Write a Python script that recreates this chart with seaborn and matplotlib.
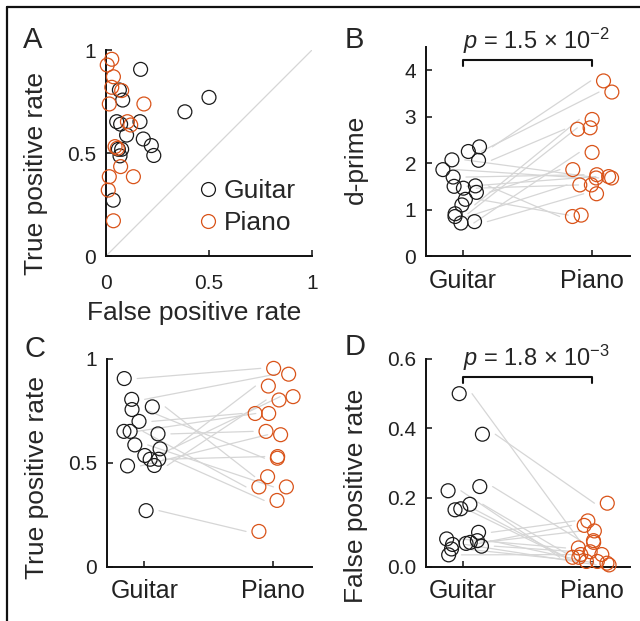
import numpy as np
import pandas as pd
import seaborn as sns
import matplotlib.pyplot as plt
from matplotlib.lines import Line2D

# values per participant (same order in every list)
categories = ['Guitar', 'Piano']
guitar_fpr = [0.168, 0.065, 0.50, 0.081, 0.383, 0.052, 0.071, 0.165, 0.100, 0.181, 0.220, 0.076, 0.060, 0.232, 0.068, 0.035]
guitar_tpr = [0.906, 0.806, 0.770, 0.757, 0.700, 0.652, 0.640, 0.652, 0.587, 0.568, 0.536, 0.518, 0.518, 0.488, 0.486, 0.271]
piano_fpr = [0.028, 0.006, 0.071, 0.055, 0.184, 0.016, 0.104, 0.016, 0.133, 0.036, 0.028, 0.011, 0.044, 0.076, 0.120, 0.036]
piano_tpr = [0.955, 0.927, 0.434, 0.523, 0.738, 0.738, 0.652, 0.385, 0.385, 0.870, 0.819, 0.320, 0.531, 0.803, 0.636, 0.171]
guitar_dprime = [2.25, 2.35, 0.74, 2.07, 0.85, 2.06, 1.86, 1.37, 1.51, 1.10, 0.91, 1.50, 1.70, 0.71, 1.46, 1.22]
piano_dprime = [3.53, 3.77, 1.34, 1.68, 1.53, 2.73, 1.68, 1.86, 0.85, 2.94, 2.76, 1.71, 1.75, 2.23, 1.53, 0.88]
p_dprime = r'$p$ = 1.5 × 10$^{-2}$'
p_fpr = r'$p$ = 1.8 × 10$^{-3}$'

colors = {'Guitar': '#1a1a1a', 'Piano': '#d95319'}
line_gray = '#d6d6d6'
n = len(guitar_tpr)

sns.set_theme(style='ticks')
plt.rcParams['font.family'] = ['Liberation Sans', 'DejaVu Sans']
plt.rcParams['mathtext.fontset'] = 'custom'
plt.rcParams['mathtext.rm'] = 'Liberation Sans'
plt.rcParams['mathtext.it'] = 'Liberation Sans:italic'

W, H = 640, 621
fig = plt.figure(figsize=(W / 100, H / 100), dpi=100)


def px_axes(left, top, right, bottom):
    return fig.add_axes([left / W, 1 - bottom / H, (right - left) / W, (bottom - top) / H])


def open_circles(ax):
    for coll in ax.collections:
        fc = coll.get_facecolors()
        if len(fc):
            coll.set_edgecolors(fc)
            coll.set_facecolors('none')
            coll.set_linewidth(0.9)


def style(ax):
    sns.despine(ax=ax)
    for s in ['left', 'bottom']:
        ax.spines[s].set_linewidth(1.4)
        ax.spines[s].set_color('#111111')
    ax.tick_params(direction='in', length=4, width=1.2, labelsize=15, pad=7, colors='#222222')


def paired_panel(ax, g_vals, p_vals, jit, ylim, yticks, ylabel, ylab_y):
    jit_g, jit_p = jit
    for i in range(n):
        ax.plot([jit_g[i] + 0.1, 1 + jit_p[i] - 0.1], [g_vals[i], p_vals[i]],
                color=line_gray, lw=0.9, zorder=1)
    df = pd.DataFrame({'x': np.r_[jit_g, 1 + jit_p],
                       'y': np.r_[g_vals, p_vals],
                       'inst': ['Guitar'] * n + ['Piano'] * n})
    sns.scatterplot(data=df, x='x', y='y', hue='inst', palette=colors, s=100,
                    legend=False, ax=ax, zorder=3, clip_on=False)
    open_circles(ax)
    style(ax)
    ax.set_xlim(-0.29, 1.30)
    ax.set_ylim(*ylim)
    ax.set_yticks(yticks)
    ax.set_xticks([0, 1])
    ax.set_xticklabels(categories, fontsize=18)
    ax.tick_params(axis='x', pad=9)
    ax.set_xlabel('')
    ax.set_ylabel(ylabel, fontsize=19)
    ax.yaxis.set_label_coords(-0.284, ylab_y)


def bracket(ax, y, d, text):
    ax.plot([0, 0, 1, 1], [y - d, y, y, y - d], color='#111111', lw=1.5, clip_on=False)
    ax.annotate(text, xy=(0.57, y), xytext=(0, 8), textcoords='offset points',
                ha='center', va='baseline', fontsize=17)


rng = np.random.default_rng(7)
jitters = rng.uniform(-0.16, 0.16, size=(3, 2, n))

# A: ROC space
ax_a = px_axes(106, 50, 312, 256)
ax_a.plot([0, 1], [0, 1], color=line_gray, lw=0.9, zorder=1)
roc = pd.DataFrame({'fpr': guitar_fpr + piano_fpr,
                    'tpr': guitar_tpr + piano_tpr,
                    'inst': ['Guitar'] * n + ['Piano'] * n})
sns.scatterplot(data=roc, x='fpr', y='tpr', hue='inst', palette=colors, s=100,
                legend=False, ax=ax_a, zorder=3, clip_on=False)
open_circles(ax_a)
style(ax_a)
ax_a.tick_params(axis='x', pad=13)
ax_a.set_xlim(0, 1)
ax_a.set_ylim(0, 1)
ax_a.set_xticks([0, 0.5, 1])
ax_a.set_yticks([0, 0.5, 1])
ax_a.set_xticklabels(['0', '0.5', '1'])
ax_a.set_yticklabels(['0', '0.5', '1'])
ax_a.set_xlabel('False positive rate', fontsize=19)
ax_a.set_ylabel('True positive rate', fontsize=19)
ax_a.xaxis.set_label_coords(0.43, -0.22)
ax_a.yaxis.set_label_coords(-0.28, 0.40)
handles = [Line2D([], [], marker='o', ls='', mfc='none', mec=colors[c], ms=10, mew=0.9)
           for c in categories]
ax_a.legend(handles, categories, loc='lower left', bbox_to_anchor=(0.43, 0.10),
            frameon=False, fontsize=19, handlelength=1.0, handletextpad=0.1,
            labelspacing=0.3, borderpad=0, borderaxespad=0)

# B: d-prime
ax_b = px_axes(426, 47, 630, 256)
paired_panel(ax_b, guitar_dprime, piano_dprime, jitters[0], (0, 4.5), [0, 1, 2, 3, 4], 'd-prime', 0.46)
bracket(ax_b, 4.22, 0.13, p_dprime)

# C: true positive rate
ax_c = px_axes(107, 359, 312, 567)
paired_panel(ax_c, guitar_tpr, piano_tpr, jitters[1], (0, 1), [0, 0.5, 1], 'True positive rate', 0.43)
ax_c.set_yticklabels(['0', '0.5', '1'])

# D: false positive rate
ax_d = px_axes(426, 359, 630, 567)
paired_panel(ax_d, guitar_fpr, piano_fpr, jitters[2], (0, 0.6), [0, 0.2, 0.4, 0.6], 'False positive rate', 0.34)
bracket(ax_d, 0.548, 0.017, p_fpr)

# panel letters
for letter, x, y in [('A', 23, 48), ('B', 345, 48), ('C', 25, 357), ('D', 345, 355)]:
    fig.text(x / W, 1 - y / H, letter, fontsize=21, va='baseline', ha='left')

# frame lines at the top and left edge
fig.add_artist(Line2D([7 / W, 7 / W], [0, 1 - 7 / H], transform=fig.transFigure, color='#111111', lw=1.6))
fig.add_artist(Line2D([7 / W, 1], [1 - 7 / H, 1 - 7 / H], transform=fig.transFigure, color='#111111', lw=1.6))

fig.savefig('out.png', dpi=100)
